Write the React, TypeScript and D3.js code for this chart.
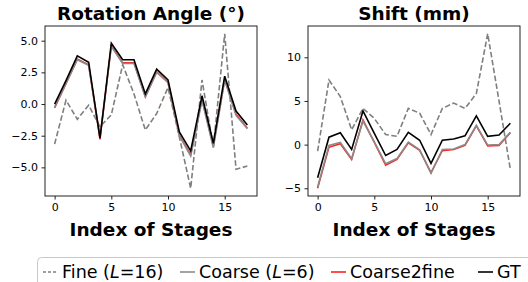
import { useEffect, useRef } from 'react';
import * as d3 from 'd3';

const stages = d3.range(18);

// Rotation angle (deg)
const rotFine = [-3.15, 0.3, -1.2, -0.1, -1.8, -0.85, 3.1, 0.8, -2.05, -0.75, 1.3, -2.6, -6.65, 1.9, -3.4, 5.55, -5.15, -4.9];
const rotCoarse = [-0.25, 1.6, 3.5, 3.05, -2.6, 4.55, 3.2, 3.2, 0.55, 2.5, 1.7, -2.5, -4.1, 0.3, -3.45, 1.9, -0.9, -1.95];
const rotC2F = [-0.3, 1.6, 3.55, 3.1, -2.8, 4.6, 3.25, 3.25, 0.6, 2.55, 1.7, -2.45, -4.0, 0.4, -3.3, 1.95, -0.8, -1.9];
const rotGT = [0, 1.85, 3.8, 3.3, -2.7, 4.8, 3.5, 3.5, 0.8, 2.75, 1.9, -2.2, -3.7, 0.65, -3.1, 2.2, -0.55, -1.65];

// Shift (mm)
const shiftFine = [-0.75, 7.4, 5.5, 1.7, 4.15, 3.0, 1.15, 0.95, 4.15, 3.6, 1.15, 4.15, 4.75, 4.15, 5.85, 12.7, 5.0, -2.85];
const shiftCoarse = [-4.85, -0.1, 0.25, -1.6, 2.7, 0.3, -2.2, -1.6, 0.3, -0.6, -3.3, -0.55, -0.5, 0.0, 2.2, -0.05, 0.0, 1.4];
const shiftC2F = [-5.0, -0.3, 0.1, -1.7, 2.85, 0.25, -2.35, -1.7, 0.2, -0.65, -3.2, -0.7, -0.55, -0.1, 2.15, -0.15, -0.1, 1.35];
const shiftGT = [-3.8, 0.85, 1.35, -0.55, 3.85, 1.3, -1.25, -0.55, 1.4, 0.5, -2.15, 0.5, 0.65, 1.0, 3.3, 0.95, 1.1, 2.45];

const rotTicks = [-5, -2.5, 0, 2.5, 5];
const shiftTicks = [-5, 0, 5, 10];
const xTicks = [0, 5, 10, 15];

const legendItems = [
  { label: 'Fine', sub: '16', color: '#7f7f7f', dash: '3,2' },
  { label: 'Coarse', sub: '6', color: '#8c8c8c', dash: null },
  { label: 'Coarse2fine', sub: null, color: '#ff2020', dash: null },
  { label: 'GT', sub: null, color: '#000000', dash: null },
];

const FONT = 'DejaVu Sans, sans-serif';

interface PanelSpec {
  title: string;
  left: number;
  ticks: number[];
  fmt: (v: number) => string;
  fine: number[];
  coarse: number[];
  c2f: number[];
  gt: number[];
}

const panels: PanelSpec[] = [
  { title: 'Rotation Angle (°)', left: 45, ticks: rotTicks, fmt: d3.format('.1f'), fine: rotFine, coarse: rotCoarse, c2f: rotC2F, gt: rotGT },
  { title: 'Shift (mm)', left: 308, ticks: shiftTicks, fmt: d3.format('d'), fine: shiftFine, coarse: shiftCoarse, c2f: shiftC2F, gt: shiftGT },
];

export default function App() {
  const svgRef = useRef<SVGSVGElement>(null);

  useEffect(() => {
    if (!svgRef.current) return;
    const svg = d3.select(svgRef.current);
    svg.selectAll('*').remove();

    const top = 26;
    const bottom = 196;
    const w = 212;

    panels.forEach(p => {
      const all = [...p.fine, ...p.coarse, ...p.c2f, ...p.gt];
      const [lo, hi] = d3.extent(all) as [number, number];
      const pad = (hi - lo) * 0.05;
      const x = d3.scaleLinear().domain([-0.85, 17.85]).range([p.left, p.left + w]);
      const y = d3.scaleLinear().domain([lo - pad, hi + pad]).range([bottom, top]);

      const g = svg.append('g');

      const line = d3.line<number>().x((_, i) => x(stages[i])).y(d => y(d));

      const series = [
        { data: p.fine, color: '#7f7f7f', width: 1.6, dash: '5.5,2.5' },
        { data: p.c2f, color: '#ff2020', width: 1.5, dash: null },
        { data: p.coarse, color: '#8a8a8a', width: 1.6, dash: null },
        { data: p.gt, color: '#000', width: 1.6, dash: null },
      ];
      series.forEach(s => {
        g.append('path')
          .attr('d', line(s.data))
          .attr('fill', 'none')
          .attr('stroke', s.color)
          .attr('stroke-width', s.width)
          .attr('stroke-dasharray', s.dash)
          .attr('stroke-linejoin', 'miter');
      });

      // frame
      g.append('rect')
        .attr('x', p.left).attr('y', top)
        .attr('width', w).attr('height', bottom - top)
        .attr('fill', 'none').attr('stroke', '#222').attr('stroke-width', 1);

      const xAxis = g.append('g')
        .attr('transform', `translate(0,${bottom})`)
        .call(d3.axisBottom(x).tickValues(xTicks).tickSizeOuter(0).tickSize(3.5).tickPadding(3.5));
      const yAxis = g.append('g')
        .attr('transform', `translate(${p.left},0)`)
        .call(d3.axisLeft(y).tickValues(p.ticks).tickFormat(d => p.fmt(d as number)).tickSizeOuter(0).tickSize(3.5).tickPadding(3.5));
      [xAxis, yAxis].forEach(a => {
        a.select('.domain').remove();
        a.selectAll('line').attr('stroke', '#222');
        a.selectAll('text').attr('font-family', FONT).attr('font-size', 11).attr('fill', '#000');
      });

      g.append('text')
        .attr('x', p.left + w / 2).attr('y', 20)
        .attr('text-anchor', 'middle')
        .attr('font-family', FONT).attr('font-weight', 'bold').attr('font-size', 18.5)
        .text(p.title);

      g.append('text')
        .attr('x', p.left + w / 2).attr('y', 236)
        .attr('text-anchor', 'middle')
        .attr('font-family', FONT).attr('font-weight', 'bold').attr('font-size', 18.5)
        .text('Index of Stages');
    });

    // legend
    const lg = svg.append('g');
    lg.append('rect')
      .attr('x', 37.5).attr('y', 257.5)
      .attr('width', 520).attr('height', 40)
      .attr('rx', 4)
      .attr('fill', '#fff').attr('stroke', '#c8c8c8').attr('stroke-width', 1);

    const starts = [43, 180, 331, 478];
    legendItems.forEach((item, i) => {
      const x0 = starts[i];
      lg.append('line')
        .attr('x1', x0).attr('x2', x0 + 15)
        .attr('y1', 272).attr('y2', 272)
        .attr('stroke', item.color).attr('stroke-width', 1.6)
        .attr('stroke-dasharray', item.dash);
      const t = lg.append('text')
        .attr('x', x0 + 19).attr('y', 278)
        .attr('font-family', FONT).attr('font-size', 17.5).attr('fill', '#000');
      if (item.sub) {
        t.append('tspan').text(`${item.label} (`);
        t.append('tspan').attr('font-style', 'italic').text('L');
        t.append('tspan').text(`=${item.sub})`);
      } else {
        t.text(item.label);
      }
    });
  }, []);

  return (
    <svg
      ref={svgRef}
      width={528}
      height={282}
      style={{ position: 'absolute', left: 0, top: 0, background: '#fff' }}
    />
  );
}
